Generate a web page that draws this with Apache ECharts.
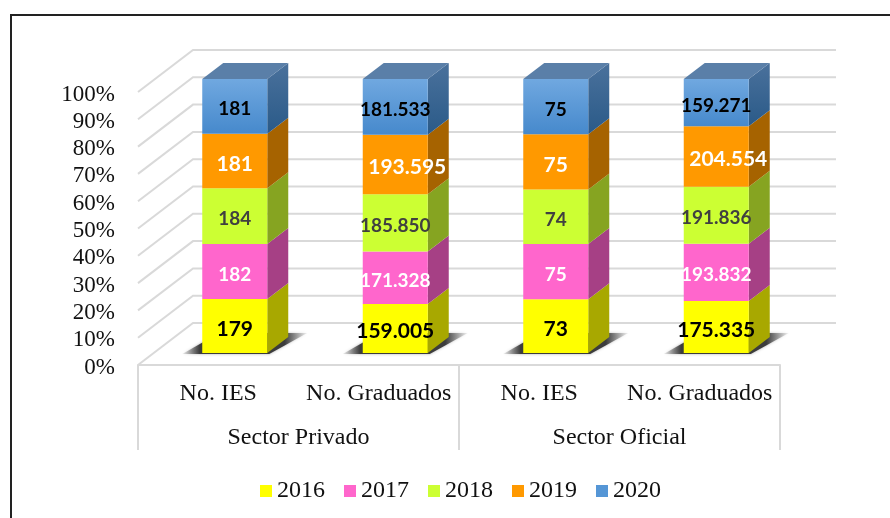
<!DOCTYPE html>
<html>
<head>
<meta charset="utf-8">
<style>html,body{margin:0;padding:0;background:#fff}#c{width:890px;height:518px}</style>
<script src="https://cdn.jsdelivr.net/npm/echarts@6/dist/echarts.min.js"></script>
</head>
<body>
<div id="c"></div>
<script>
// ---- data ----
const categories = ['No. IES', 'No. Graduados', 'No. IES', 'No. Graduados'];
const sectors = ['Sector Privado', 'Sector Oficial'];
const years = ['2016', '2017', '2018', '2019', '2020'];
const v2016 = [179, 159005, 73, 175335];
const v2017 = [182, 171328, 75, 193832];
const v2018 = [184, 185850, 74, 191836];
const v2019 = [181, 193595, 75, 204554];
const v2020 = [181, 181533, 75, 159271];
const ticks = [0, 10, 20, 30, 40, 50, 60, 70, 80, 90, 100];

// ---- styles ----
const allValues = [v2016, v2017, v2018, v2019, v2020];
const serif = '"Liberation Serif"';
const gridColor = '#D9D9D9';
const frontColors = ['#FFFF00', '#FF66CC', '#CCFF33', '#FF9900',
  {type:'linear',x:0,y:0,x2:0,y2:1,colorStops:[{offset:0,color:'#70A8E0'},{offset:1,color:'#4689CC'}]}];
const legendColors = ['#FFFF00', '#FF66CC', '#CCFF33', '#FF9900', '#5596D6'];
const sideColors = ['#A8A800', '#A64085', '#86A421', '#A66300',
  {type:'linear',x:0,y:0,x2:0,y2:1,colorStops:[{offset:0,color:'#4A719C'},{offset:1,color:'#2A5A88'}]}];
const topColor = '#5A7FA8';
const labelColors = [
  ['#000','#000','#000','#000'],
  ['#fff','#fff','#fff','#fff'],
  ['#404040','#404040','#404040','#404040'],
  ['#fff','#fff','#fff','#fff'],
  ['#000','#000','#000','#000']
];
const labelSizes = [
  [21,21,21,21],
  [19,19,19,19],
  [19,19,19,19],
  [21,21,21,21],
  [19,19,19,19]
];
const labelOffsets = [
  [[0,3],[0,3],[0,3],[0,3]],
  [[0,3],[0,3],[0,3],[0,3]],
  [[0,3],[0,3],[0,3],[0,3]],
  [[0,3],[12,3],[0,3],[12,3]],
  [[0,3],[0,3],[0,3],[0,3]]
];
const fmt = v => String(v).replace(/(\d)(\d{3})$/, '$1.$2');

const totals = categories.map((_, i) => allValues.reduce((s, a) => s + a[i], 0));
const DX = 21, DY = 16;   // depth of a bar
const BW = 65;

const poly = (points, style) => ({type:'polygon', shape:{points}, style});

const series = [];
// gridlines on walls and floor
series.push({
  type:'custom', xAxisIndex:0, yAxisIndex:0, z:0, silent:true,
  data: ticks.map(t => [0, t]),
  renderItem(params, api) {
    const cs = params.coordSys;
    const y = api.coord([0, api.value(1)])[1];
    return {type:'polyline', shape:{points:[[cs.x, y],[cs.x+55, y-42],[cs.x+cs.width+56, y-42]]},
      style:{fill:null, stroke:gridColor, lineWidth:2}};
  }
});
// floor shadows
series.push({
  type:'custom', xAxisIndex:2, yAxisIndex:1, z:1, silent:true,
  data: categories.map((_, i) => [i, 0]),
  renderItem(params, api) {
    const p = api.coord([api.value(0), 0]);
    const l = p[0]-BW/2, r = p[0]+BW/2, y = p[1];
    return poly([[l-20,y+1],[r+2,y+1],[r+40,y-20],[l+17,y-20]],{
      fill:{type:'linear',x:0,y:0,x2:1,y2:0,colorStops:[
        {offset:0,color:'rgba(110,110,110,0.1)'},{offset:.14,color:'rgba(60,60,60,1)'},
        {offset:.82,color:'rgba(60,60,60,1)'},{offset:1,color:'rgba(130,130,130,0.1)'}]},
      shadowBlur:3, shadowColor:'rgba(120,120,120,0.6)'
    });
  }
});
years.forEach((year, s) => {
  const starts = categories.map((_, i) => {
    let c = 0; for (let k = 0; k < s; k++) c += allValues[k][i];
    return c / totals[i] * 100;
  });
  const pct = categories.map((_, i) => allValues[s][i] / totals[i] * 100);
  // side (and, for the last series, top) faces
  series.push({
    type:'custom', xAxisIndex:2, yAxisIndex:1, z:2, silent:true,
    data: categories.map((_, i) => [i, starts[i], starts[i]+pct[i]]),
    renderItem(params, api) {
      const a = api.coord([api.value(0), api.value(1)]);
      const b = api.coord([api.value(0), api.value(2)]);
      const r = a[0]+BW/2, l = a[0]-BW/2;
      const children = [poly([[r,a[1]],[r,b[1]],[r+DX,b[1]-DY],[r+DX,a[1]-DY]],{fill:sideColors[s]})];
      if (s === years.length-1) {
        children.push(poly([[l,b[1]],[r,b[1]],[r+DX,b[1]-DY],[l+DX,b[1]-DY]],{fill:topColor}));
      }
      return {type:'group', children};
    }
  });
  // front faces
  series.push({
    name:year, type:'bar', stack:'total', xAxisIndex:2, yAxisIndex:1, z:3,
    barWidth:BW, silent:true,
    itemStyle:{color:legendColors[s]},
    data: pct.map((p, i) => ({
      value:p,
      itemStyle:{color:frontColors[s]},
      label:{show:true, position:'inside', formatter:fmt(allValues[s][i]),
        color:labelColors[s][i], fontSize:labelSizes[s][i], offset:labelOffsets[s][i],
        fontFamily:'Lato', fontWeight:'bold'}
    }))
  });
});

const chart = echarts.init(document.getElementById('c'));
chart.setOption({
  animation:false,
  backgroundColor:'#fff',
  graphic:[{type:'polyline', silent:true, shape:{points:[[11,518],[11,15],[890,15]]},
    style:{fill:null, stroke:'#222', lineWidth:2}}],
  grid:[
    {left:138, top:92, width:642, height:273},
    {left:154.5, top:79, width:642, height:274}
  ],
  xAxis:[
    {gridIndex:0, type:'category', data:categories, position:'bottom',
      axisLine:{show:true, lineStyle:{color:gridColor, width:2}}, axisTick:{show:false},
      axisLabel:{interval:0, margin:17, color:'#111', fontFamily:serif, fontSize:24}},
    {gridIndex:0, type:'category', data:sectors, position:'bottom',
      axisLine:{show:false},
      axisTick:{show:true, length:85, lineStyle:{color:gridColor, width:2}},
      axisLabel:{interval:0, margin:61, color:'#111', fontFamily:serif, fontSize:24}},
    {gridIndex:1, type:'category', data:categories, show:false}
  ],
  yAxis:[
    {gridIndex:0, type:'value', min:0, max:100, interval:10,
      axisLine:{show:false}, axisTick:{show:false}, splitLine:{show:false},
      axisLabel:{formatter:'{value}%', margin:23, color:'#111', fontFamily:serif, fontSize:23,
        verticalAlign:'top', lineHeight:5}},
    {gridIndex:1, type:'value', min:0, max:100, show:false, splitLine:{show:false}}
  ],
  legend:{data:years, left:260, top:479, padding:0, itemWidth:12, itemHeight:12, itemGap:19,
    selectedMode:false, icon:'rect',
    textStyle:{color:'#111', fontFamily:serif, fontSize:24}},
  series
});
</script>
</body>
</html>
